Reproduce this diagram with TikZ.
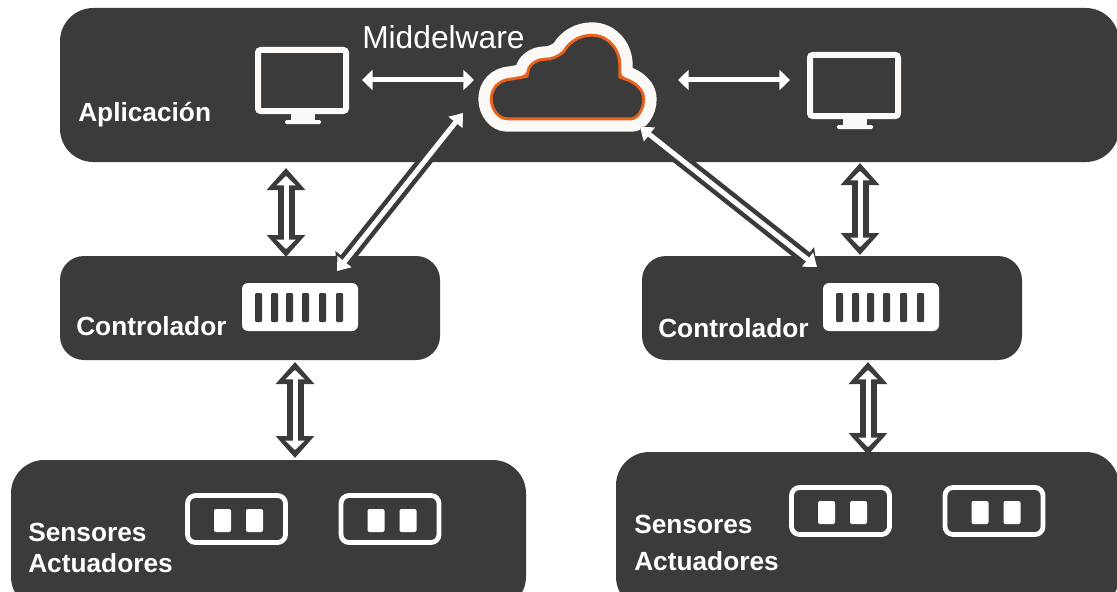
\documentclass[tikz,border=0pt]{standalone}
\usepackage{fontspec}
\setmainfont{Liberation Sans}
\usetikzlibrary{arrows.meta}
\definecolor{panelgray}{HTML}{3B3B3B}
\definecolor{cloudorange}{HTML}{E8641E}
\definecolor{iconwhite}{HTML}{FCF9F6}
\tikzset{
	panel/.style={fill=panelgray, rounded corners=#1},
	lbl/.style={text=white, font=\fontsize{19.7pt}{23pt}\selectfont\bfseries, anchor=base west, inner sep=0pt},
	whitearrow/.style={draw=white, line width=3.75pt, {Triangle[width=15pt,length=8pt]}-{Triangle[width=15pt,length=8pt]}},
	hollowbig/.style={draw=white, line width=3.75pt, shorten >=6pt, shorten <=6pt,
		{Triangle[width=14pt,length=7pt]}-{Triangle[width=14pt,length=7pt]},
		preaction={draw=panelgray, line width=12.75pt, shorten >=0pt, shorten <=0pt, line join=round,
			{Triangle[width=28pt,length=16.5pt]}-{Triangle[width=28pt,length=16.5pt]}}},
	hollowthin/.style={draw=white, line width=3.75pt,
		{Triangle[width=13pt,length=9pt]}-{Triangle[width=13pt,length=9pt]},
		preaction={draw=panelgray, line width=10.5pt, shorten >=0pt, shorten <=0pt,
			{Triangle[width=20pt,length=11pt]}-{Triangle[width=20pt,length=11pt]}}},
	screen/.style={draw=iconwhite, line width=4.5pt, rounded corners=2pt},
	stand/.style={fill=iconwhite},
	chip/.style={fill=white, rounded corners=4.5pt},
	chipbar/.style={fill=panelgray, rounded corners=0.8pt},
	sensorbox/.style={draw=white, line width=3.6pt, rounded corners=6pt},
	sensorpin/.style={fill=white, rounded corners=1.5pt},
	pics/monitor/.style={code={
		\draw[screen] (3,3) rectangle (91,64);
		\fill[stand] (36,67) rectangle (60,75);
		\fill[stand, rounded corners=1pt] (30,73) rectangle (66,77);
	}}
}
\newcommand{\cloudpath}{(507,126) .. controls (494,126) and (484,113) .. (484,99) .. controls (484,85) and (494,73) .. (510,72) -- (521,70) .. controls (522,60) and (533,52) .. (545,52) .. controls (550,52) and (554,50) .. (558,47) .. controls (565,35) and (578,28) .. (592,28) .. controls (612,28) and (627,45) .. (627,65) -- (627,72) .. controls (640,76) and (651,86) .. (651,99) .. controls (651,113) and (642,126) .. (632,126) -- cycle}
\begin{document}
\begin{tikzpicture}[x=0.75pt, y=-0.75pt]
	\useasboundingbox (0,0) rectangle (1117,592);
	\clip (0,0) rectangle (1117,592);
	
	% panels
	\fill[panel=25] (60,8) rectangle (1119,162);
	\fill[panel=18] (60,256) rectangle (440,360);
	\fill[panel=18] (642,256) rectangle (1022,360);
	\fill[panel=25] (11,460) rectangle (526,610);
	\fill[panel=25] (616,452) rectangle (1119,610);
	
	% cloud
	\begin{scope}
		\clip \cloudpath;
		\draw[cloudorange, line width=13pt] \cloudpath;
	\end{scope}
	\draw[iconwhite, line width=8.5pt, line join=round] \cloudpath;
	
	% monitors
	\pic at (255,47) {monitor};
	\pic at (807,52) {monitor};
	
	% chips of the controllers
	\foreach \dx in {0,581}{
		\fill[chip] (242+\dx,283) rectangle (358+\dx,331);
		\foreach \bx in {255,271,286,302,319,336}{
			\fill[chipbar] (\bx+\dx,293) rectangle (\bx+7+\dx,322);
		}
	}
	
	% sensors
	\foreach \dx/\dy in {0/0,604/-8}{
		\foreach \sx in {0,153.5}{
			\draw[sensorbox] (187.5+\dx+\sx,495.5+\dy) rectangle (285.5+\dx+\sx,542.5+\dy);
			\fill[sensorpin] (214+\dx+\sx,509+\dy) rectangle (231+\dx+\sx,532+\dy);
			\fill[sensorpin] (246+\dx+\sx,509+\dy) rectangle (263+\dx+\sx,532+\dy);
		}
	}
	
	% labels
	\node[lbl] (aplicacion) at (78,121) {Aplicación};
	\node[lbl, text=white, font=\fontsize{23.8pt}{27pt}\selectfont] (middelware) at (362,49) {Middelware};
	\node[lbl] (controladorA) at (76,335) {Controlador};
	\node[lbl] (controladorB) at (658,337) {Controlador};
	\node[lbl] (sensoresA) at (28,541) {Sensores};
	\node[lbl] (actuadoresA) at (28,572) {Actuadores};
	\node[lbl] (sensoresB) at (634,533) {Sensores};
	\node[lbl] (actuadoresB) at (634,570) {Actuadores};
	
	% connector ends
	\coordinate (monAright) at (362,80);
	\coordinate (cloudleft) at (474,80);
	\coordinate (cloudright) at (678,80);
	\coordinate (monBleft) at (790,80);
	\coordinate (appA) at (286,168);
	\coordinate (ctrlAtop) at (286,257);
	\coordinate (ctrlAbot) at (295,362);
	\coordinate (sensAtop) at (295,458);
	\coordinate (appB) at (860,163);
	\coordinate (ctrlBtop) at (860,255);
	\coordinate (ctrlBbot) at (868,362);
	\coordinate (sensBtop) at (868,455);
	\coordinate (cloudA) at (463,113);
	\coordinate (chipA) at (337,271);
	\coordinate (cloudB) at (640,127);
	\coordinate (chipB) at (817,267);
	
	% connectors
	\draw[whitearrow] (monAright) -- (cloudleft);
	\draw[whitearrow] (cloudright) -- (monBleft);
	\draw[hollowbig] (appA) -- (ctrlAtop);
	\draw[hollowbig] (ctrlAbot) -- (sensAtop);
	\draw[hollowbig] (appB) -- (ctrlBtop);
	\draw[hollowbig] (ctrlBbot) -- (sensBtop);
	\draw[hollowthin] (cloudA) -- (chipA);
	\draw[hollowthin] (cloudB) -- (chipB);
\end{tikzpicture}
\end{document}
